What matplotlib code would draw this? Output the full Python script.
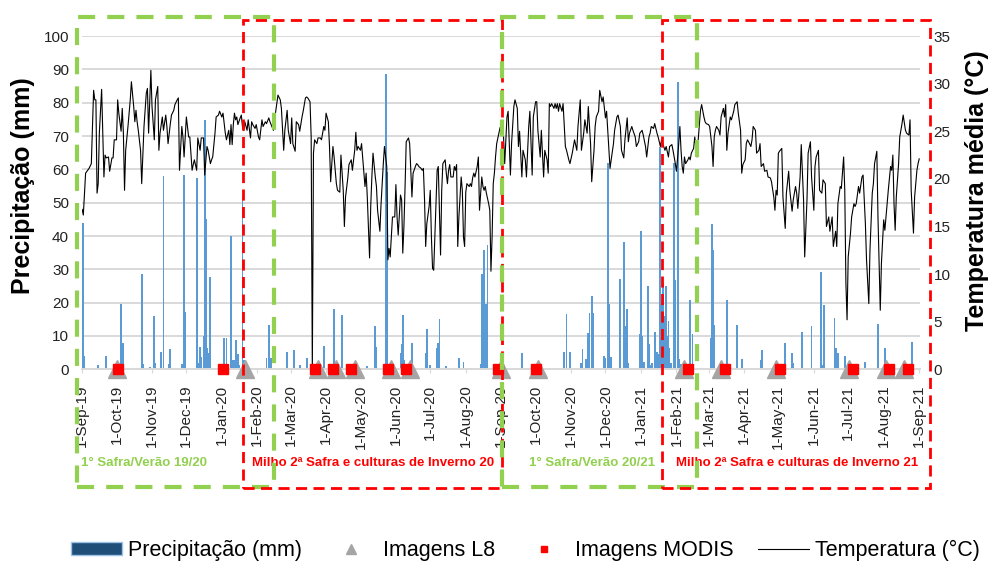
import numpy as np
import pandas as pd
import matplotlib
matplotlib.use('Agg')
import matplotlib.pyplot as plt
import matplotlib.transforms as mtransforms
from matplotlib.patches import Rectangle, Patch
from matplotlib.lines import Line2D

plt.rcParams['font.family'] = ['Liberation Sans', 'DejaVu Sans']

# day 0 = 1-Sep-2019
start = pd.Timestamp('2019-09-01')
end = pd.Timestamp('2021-09-01')

# daily mean temperature (day offset, degC)
temp_points = [
    (0, 16.8), (1, 16.2), (3, 20.6), (6, 21.1), (8, 21.6), (10, 29.3), (11, 28.3), (12, 28.3), (13, 18.5),
    (14, 19.5), (15, 24.8), (17, 29.4), (19, 20.2), (20, 22.5), (21, 22.2), (23, 22.3), (24, 20.8), (26, 22.2),
    (27, 22.2), (28, 24.1), (30, 24.1), (31, 28.3), (32, 26.9), (34, 25.0), (35, 27.4), (36, 24.8), (37, 18.8),
    (38, 23.0), (40, 25.5), (42, 28.3), (43, 30.2), (45, 27.6), (46, 26.0), (47, 27.2), (48, 26.0), (49, 25.1),
    (51, 23.0), (52, 19.5), (54, 25.5), (56, 29.0), (57, 29.5), (58, 24.8), (60, 31.4), (61, 27.6), (63, 24.1),
    (64, 28.3), (66, 29.7), (67, 23.0), (68, 24.8), (70, 26.5), (71, 25.1), (73, 26.7), (74, 25.5), (75, 23.7),
    (77, 25.8), (78, 26.7), (80, 27.2), (81, 27.8), (83, 28.3), (84, 28.5), (85, 20.9), (87, 25.5), (88, 24.4),
    (89, 22.3), (90, 24.4), (91, 26.5), (93, 24.4), (94, 24.4), (96, 20.9), (97, 21.5), (98, 22.0), (100, 20.9),
    (101, 24.3), (103, 23.0), (104, 24.3), (106, 24.3), (107, 20.4), (109, 23.4), (110, 23.0), (112, 21.6),
    (113, 22.0), (114, 22.3), (116, 24.8), (117, 26.5), (119, 26.7), (120, 27.1), (122, 26.5), (123, 26.9),
    (125, 24.8), (126, 24.1), (128, 25.1), (129, 23.6), (130, 25.7), (131, 23.6), (132, 25.7), (133, 26.9),
    (134, 26.2), (135, 26.5), (136, 25.7), (138, 26.4), (139, 26.7), (140, 25.5), (141, 25.1), (142, 26.0),
    (144, 25.1), (145, 26.2), (147, 24.3), (148, 26.0), (149, 25.7), (151, 25.3), (152, 25.7), (154, 24.4),
    (155, 24.1), (157, 26.2), (158, 25.5), (160, 26.0), (161, 25.8), (163, 26.4), (164, 26.0), (165, 25.7),
    (167, 25.1), (168, 26.2), (170, 27.9), (171, 28.8), (173, 28.3), (174, 27.4), (176, 23.0), (177, 25.1),
    (179, 27.2), (180, 25.1), (182, 23.7), (183, 26.4), (184, 23.7), (186, 22.9), (187, 26.0), (189, 25.7),
    (190, 25.0), (192, 26.5), (193, 27.1), (195, 28.5), (196, 28.6), (197, 28.5), (199, 28.1), (200, 24.4),
    (201, 0.0), (202, 22.7), (203, 24.1), (205, 23.7), (206, 24.3), (208, 24.3), (209, 24.1), (211, 25.5),
    (212, 25.1), (213, 26.9), (215, 26.0), (216, 23.4), (217, 19.7), (219, 23.4), (220, 22.3), (222, 19.5),
    (223, 18.8), (225, 18.6), (226, 22.5), (228, 18.8), (229, 15.0), (230, 18.1), (232, 20.1), (233, 21.5),
    (235, 22.0), (236, 20.9), (238, 23.0), (239, 24.9), (240, 23.0), (241, 23.4), (243, 23.0), (244, 23.7),
    (246, 20.6), (247, 19.2), (248, 20.6), (249, 18.1), (251, 11.7), (252, 17.1), (253, 20.2), (254, 22.7),
    (256, 20.2), (257, 19.2), (258, 16.7), (260, 14.5), (261, 17.3), (262, 19.5), (263, 21.6), (264, 23.4),
    (266, 21.3), (267, 11.5), (268, 12.7), (269, 11.8), (270, 13.9), (271, 16.0), (273, 16.0), (274, 19.4),
    (275, 16.0), (276, 14.1), (278, 18.3), (279, 17.8), (280, 12.2), (281, 15.0), (282, 19.2), (283, 23.9),
    (285, 24.3), (286, 23.7), (287, 20.9), (288, 18.1), (289, 20.6), (291, 21.3), (292, 21.6), (293, 21.5),
    (294, 21.3), (296, 21.1), (297, 20.9), (298, 21.1), (299, 17.8), (300, 12.9), (301, 15.3), (303, 17.1),
    (304, 18.8), (305, 13.9), (306, 10.6), (307, 10.4), (308, 13.9), (310, 20.9), (311, 21.3), (312, 16.7),
    (313, 12.0), (314, 18.8), (315, 21.6), (317, 22.0), (318, 20.6), (319, 19.5), (320, 20.9), (321, 21.5),
    (322, 20.2), (324, 20.2), (325, 21.3), (326, 20.9), (327, 21.5), (328, 12.9), (329, 16.0), (331, 20.2),
    (332, 18.8), (333, 13.9), (334, 12.9), (335, 18.6), (336, 19.5), (338, 19.2), (339, 19.5), (340, 19.2),
    (341, 20.1), (342, 20.6), (343, 20.2), (345, 21.3), (346, 22.3), (347, 16.7), (349, 20.2), (350, 19.2),
    (351, 18.8), (352, 19.2), (353, 18.5), (355, 17.4), (356, 16.7), (357, 10.3), (358, 13.9), (359, 19.5),
    (360, 20.6), (361, 22.3), (362, 23.7), (364, 24.8), (365, 25.4), (366, 25.1), (368, 24.4), (369, 21.6),
    (371, 26.5), (372, 27.1), (374, 20.4), (375, 23.7), (377, 27.6), (378, 28.3), (380, 27.4), (381, 23.4),
    (382, 25.0), (384, 20.2), (385, 23.0), (387, 22.0), (388, 20.2), (390, 25.5), (391, 27.1), (393, 20.4),
    (394, 26.5), (396, 28.1), (397, 28.1), (398, 25.1), (400, 22.3), (401, 25.1), (403, 20.2), (404, 23.0),
    (406, 22.0), (407, 20.6), (408, 27.9), (409, 27.6), (410, 27.9), (412, 27.4), (413, 27.9), (414, 27.4),
    (415, 27.9), (416, 27.1), (417, 27.9), (419, 27.1), (420, 27.9), (422, 23.4), (423, 23.0), (425, 22.0),
    (426, 21.6), (428, 22.7), (429, 23.4), (430, 24.1), (432, 23.0), (433, 25.5), (435, 28.3), (436, 23.0),
    (438, 24.8), (439, 26.2), (441, 24.8), (442, 27.6), (444, 23.7), (445, 19.7), (447, 23.0), (448, 25.5),
    (449, 26.5), (451, 27.1), (452, 29.3), (454, 28.1), (455, 28.6), (457, 26.4), (458, 27.1), (460, 23.0),
    (461, 21.1), (462, 22.0), (464, 23.7), (465, 25.1), (467, 26.5), (468, 26.7), (470, 25.5), (471, 23.0),
    (473, 22.2), (474, 24.1), (476, 26.4), (477, 23.9), (478, 24.8), (480, 25.5), (481, 25.1), (483, 24.4),
    (484, 23.4), (486, 23.9), (487, 24.8), (489, 25.1), (490, 24.6), (492, 23.4), (493, 22.3), (495, 24.4),
    (496, 24.8), (497, 25.5), (499, 25.3), (500, 25.8), (502, 24.8), (503, 24.4), (505, 23.4), (506, 24.1),
    (507, 23.7), (509, 23.0), (510, 23.4), (512, 22.3), (513, 23.4), (515, 23.6), (516, 23.0), (518, 21.6),
    (519, 20.8), (521, 23.7), (522, 25.5), (523, 23.0), (524, 21.3), (525, 20.6), (526, 22.3), (527, 21.6),
    (529, 22.0), (530, 22.3), (531, 22.0), (532, 22.7), (534, 23.2), (535, 24.4), (537, 22.3), (538, 24.1),
    (540, 27.2), (541, 27.8), (543, 26.5), (544, 26.0), (545, 25.8), (547, 25.7), (548, 25.5), (550, 23.4),
    (551, 21.3), (552, 24.4), (553, 25.1), (554, 25.5), (556, 25.1), (557, 24.6), (558, 26.5), (560, 27.4),
    (561, 26.5), (562, 27.8), (563, 23.0), (564, 24.8), (566, 26.5), (567, 26.2), (569, 27.1), (570, 27.8),
    (572, 28.1), (573, 26.9), (575, 25.1), (576, 20.6), (577, 21.5), (579, 22.0), (580, 23.7), (581, 24.1),
    (582, 23.9), (584, 23.4), (585, 24.1), (586, 25.5), (588, 25.1), (589, 22.7), (591, 23.0), (592, 23.7),
    (593, 21.3), (595, 21.6), (596, 20.8), (598, 20.9), (599, 20.2), (601, 20.1), (602, 19.7), (604, 18.1),
    (605, 16.7), (606, 18.8), (607, 18.3), (608, 22.7), (609, 22.9), (611, 23.2), (612, 18.1), (614, 14.8),
    (615, 18.5), (617, 20.8), (618, 18.8), (620, 16.6), (621, 17.8), (623, 19.2), (624, 18.5), (625, 16.9),
    (627, 20.2), (628, 23.6), (630, 17.8), (631, 11.8), (633, 17.8), (634, 22.7), (636, 23.9), (637, 20.2),
    (639, 16.7), (640, 21.3), (641, 22.3), (643, 23.0), (644, 18.8), (646, 18.5), (647, 19.9), (649, 19.5),
    (650, 15.0), (652, 16.0), (653, 14.5), (655, 16.0), (656, 12.9), (658, 14.5), (659, 12.9), (660, 17.4),
    (662, 19.2), (663, 19.0), (665, 22.3), (666, 18.8), (667, 9.0), (668, 5.2), (669, 11.8), (671, 14.3),
    (672, 16.0), (674, 17.4), (675, 17.1), (676, 17.4), (678, 19.2), (679, 18.5), (681, 20.2), (682, 20.4),
    (684, 15.3), (685, 11.5), (687, 6.9), (688, 12.5), (690, 18.5), (691, 19.5), (692, 21.6), (694, 22.9),
    (695, 16.0), (697, 6.2), (698, 11.1), (700, 15.7), (701, 14.6), (703, 17.4), (704, 18.8), (706, 21.3),
    (707, 20.9), (708, 22.5), (709, 17.4), (710, 14.6), (711, 18.1), (713, 21.6), (714, 24.4), (716, 25.8),
    (717, 26.7), (719, 25.1), (720, 24.8), (722, 24.6), (723, 26.2), (724, 18.8), (726, 14.3), (727, 18.1),
    (729, 20.9), (730, 21.6), (731, 22.1),
]

# daily rainfall (day offset, mm); days not listed had no rain
rain_points = [
    (1, 43.8), (2, 4.0), (14, 1.3), (21, 4.0), (34, 19.6), (36, 7.8), (49, 0.5), (52, 28.6), (53, 1.6),
    (59, 0.6), (63, 16.0), (64, 1.8), (69, 5.1), (71, 58.0), (76, 1.5), (77, 6.0), (87, 1.6), (89, 58.3),
    (90, 17.1), (100, 57.3), (101, 1.8), (103, 6.8), (104, 3.8), (106, 10.0), (107, 74.8), (108, 45.0),
    (109, 6.3), (110, 4.8), (112, 27.8), (124, 9.3), (126, 9.3), (130, 40.0), (132, 2.8), (133, 2.8),
    (134, 8.8), (136, 4.6), (137, 1.3), (140, 52.0), (141, 2.8), (161, 3.5), (163, 13.3), (165, 3.3),
    (179, 5.3), (185, 5.8), (190, 1.3), (196, 3.5), (211, 7.0), (220, 18.0), (227, 16.2), (249, 1.0),
    (256, 13.0), (257, 6.8), (265, 88.7), (266, 59.3), (278, 5.0), (279, 7.6), (280, 16.3), (281, 2.8),
    (288, 7.8), (300, 5.0), (301, 12.1), (304, 1.3), (310, 6.3), (311, 7.8), (312, 15.0), (318, 1.0),
    (329, 3.3), (333, 2.3), (348, 1.6), (349, 28.6), (351, 35.8), (352, 2.0), (353, 19.6), (354, 37.3),
    (384, 4.8), (421, 5.3), (423, 16.6), (426, 5.3), (436, 1.8), (437, 6.0), (440, 3.0), (442, 10.8),
    (443, 16.8), (445, 22.1), (446, 17.0), (456, 4.0), (457, 3.3), (459, 61.8), (460, 19.6), (462, 3.6),
    (470, 27.0), (473, 38.3), (475, 13.0), (476, 18.0), (477, 1.8), (487, 10.6), (488, 41.6), (489, 10.0),
    (491, 2.3), (494, 25.0), (495, 7.6), (496, 1.3), (498, 2.0), (500, 11.3), (502, 5.3), (503, 4.6),
    (505, 66.8), (506, 20.0), (507, 25.9), (508, 15.9), (509, 14.0), (510, 24.9), (511, 10.0), (512, 14.4),
    (513, 6.3), (514, 2.0), (517, 61.9), (518, 26.9), (520, 86.2), (521, 3.0), (523, 1.5), (531, 20.9),
    (533, 10.5), (549, 9.3), (550, 43.6), (551, 35.9), (552, 13.4), (563, 20.9), (572, 13.4), (576, 3.0),
    (593, 2.8), (594, 5.8), (614, 8.0), (620, 4.8), (621, 2.0), (629, 11.1), (637, 13.1), (645, 29.2),
    (647, 1.3), (648, 19.2), (657, 15.4), (658, 6.3), (660, 5.0), (666, 4.0), (684, 2.3), (695, 13.7),
    (701, 6.3), (702, 1.8), (725, 8.1),
]

# satellite image dates (day offsets)
l8_days = [30, 142, 206, 222, 238, 270, 286, 366, 398, 526, 558, 606, 670, 702, 718]
modis_days = [31, 123, 203, 219, 235, 267, 283, 363, 396, 529, 561, 609, 673, 705, 721]

# crop seasons: label, first day, last day, colour
seasons = [
    ('1° Safra/Verão 19/20', -4.5, 167.5, '#92D050'),
    ('Milho 2ª Safra e culturas de Inverno 20', 140.5, 366.6, '#FF0000'),
    ('1° Safra/Verão 20/21', 366.6, 537.0, '#92D050'),
    ('Milho 2ª Safra e culturas de Inverno 21', 506.0, 740.0, '#FF0000'),
]
season_label_day = [54, 254, 445, 624]

temp_day, temp_c = zip(*temp_points)
rain_day, rain_mm = zip(*rain_points)

months = pd.date_range(start, end, freq='MS')
tick_pos = [(m - start).days for m in months]
tick_lab = ['1-' + m.strftime('%b-%y') for m in months]

fig = plt.figure(figsize=(9.89, 5.63), dpi=100)
ax = fig.add_axes([0.0825, 0.344, 0.8475, 0.592])
ax2 = ax.twinx()

ax.bar(rain_day, rain_mm, width=1.6, color='#5B9BD5', linewidth=0, zorder=2)
ax.set_ylim(0, 100)
ax.set_yticks(np.arange(0, 101, 10))
ax.set_xlim(-0.5, 731.5)
ax.set_xticks(tick_pos)
ax.set_xticklabels(tick_lab, rotation=90, fontsize=11, color='#222222')
ax.tick_params(axis='x', length=3, color='#D9D9D9', pad=8)
ax.tick_params(axis='y', length=0, labelsize=11, labelcolor='#222222', pad=9)
ax.yaxis.grid(True, color='#D9D9D9', lw=1.4, zorder=0)
ax.set_axisbelow(True)
for s in ['top', 'left', 'right']:
    ax.spines[s].set_visible(False)
ax.spines['bottom'].set_color('#D9D9D9')
ax.spines['bottom'].set_linewidth(1.4)
ax.set_ylabel('Precipitação (mm)', fontsize=18, fontweight='bold')
ax.yaxis.set_label_coords(-0.056, 0.55)

ax2.plot(temp_day, temp_c, color='black', lw=0.8, zorder=3)
ax2.plot(l8_days, np.zeros(len(l8_days)), '^', color='#A5A5A5', ms=13, ls='none', clip_on=False, zorder=5)
ax2.plot(modis_days, np.zeros(len(modis_days)), 's', color='#FF0000', ms=7.3, ls='none', clip_on=False, zorder=6)
ax2.set_ylim(0, 35)
ax2.set_yticks(np.arange(0, 36, 5))
ax2.tick_params(axis='y', length=0, labelsize=11, labelcolor='#222222', pad=10)
for s in ['top', 'left', 'right', 'bottom']:
    ax2.spines[s].set_visible(False)
ax2.set_ylabel('Temperatura média (°C)', fontsize=18, fontweight='bold')
ax2.yaxis.set_label_coords(1.054, 0.537)

# season boxes (x in days, y in axes fraction)
blend = mtransforms.blended_transform_factory(ax2.transData, ax2.transAxes)
for (name, d0, d1, col), lx in zip(seasons, season_label_day):
    if col == '#92D050':
        lw, dash, y0, y1 = 3.0, (0, (4.1, 2.9)), -0.353, 1.057
    else:
        lw, dash, y0, y1 = 2.0, (0, (4.0, 2.3)), -0.356, 1.048
    ax2.add_patch(Rectangle((d0, y0), d1 - d0, y1 - y0, transform=blend, fill=False,
                            edgecolor=col, lw=lw, linestyle=dash, clip_on=False, zorder=10))
    ax2.text(lx, -0.281, name, transform=blend, ha='center', va='center', color=col,
             fontsize=9.5, fontweight='bold')

handles = [
    Patch(facecolor='#1F4E79', edgecolor='#9DC3E6', lw=1),
    Line2D([], [], marker='^', color='#A5A5A5', ls='none', ms=7),
    Line2D([], [], marker='s', color='#FF0000', ls='none', ms=5),
    Line2D([], [], color='black', lw=0.8),
]
labels = ['Precipitação (mm)', 'Imagens L8', 'Imagens MODIS', 'Temperatura (°C)']
fig.legend(handles, labels, loc='center', bbox_to_anchor=(0.531, 0.022), ncol=4, frameon=False,
           fontsize=15.5, handlelength=2.4, handletextpad=0.25, columnspacing=1.1, handleheight=0.5)

fig.savefig('out.png', dpi=100)
